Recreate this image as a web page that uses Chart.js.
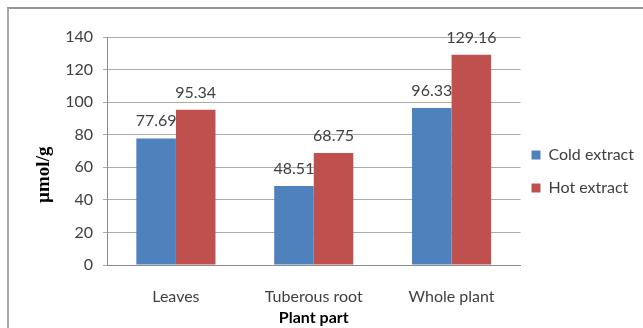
<!DOCTYPE html>
<html>
<head>
<meta charset="utf-8">
<script src="https://cdn.jsdelivr.net/npm/chart.js@4"></script>
<style>
  html, body { margin: 0; padding: 0; background: #fff; }
  #wrap { position: relative; width: 643px; height: 328px; overflow: hidden; }
  #frame { position: absolute; left: 7px; top: 7px; width: 700px; height: 400px;
           border-left: 2px solid #a8a8a8; border-top: 2px solid #969696; pointer-events: none; }
  canvas { position: absolute; left: 0; top: 0; }
</style>
</head>
<body>
<div id="wrap">
  <canvas id="chart" width="643" height="328"></canvas>
  <div id="frame"></div>
</div>
<script>
const categories = ['Leaves', 'Tuberous root', 'Whole plant'];
const coldExtract = [77.69, 48.51, 96.33];
const hotExtract = [95.34, 68.75, 129.16];
const seriesNames = ['Cold extract', 'Hot extract'];

// value labels on top of each bar
const valueLabels = {
    id: 'valueLabels',
    afterDatasetsDraw(chart) {
        const ctx = chart.ctx;
        ctx.save();
        ctx.font = '16px Lato';
        ctx.fillStyle = '#404040';
        ctx.textAlign = 'center';
        ctx.textBaseline = 'alphabetic';
        chart.data.datasets.forEach((ds, i) => {
            chart.getDatasetMeta(i).data.forEach((bar, j) => {
                ctx.fillText(ds.data[j].toFixed(2), bar.x, bar.y - 12);
            });
        });
        ctx.restore();
    }
};

// pull the legend a bit closer to the plot
const legendNudge = {
    id: 'legendNudge',
    afterLayout(chart) {
        chart.legend.left -= 6;
        chart.legend.right -= 6;
    }
};

new Chart(document.getElementById('chart'), {
    type: 'bar',
    data: {
        labels: categories,
        datasets: [
            { label: seriesNames[0], data: coldExtract, backgroundColor: '#4F81BD' },
            { label: seriesNames[1], data: hotExtract, backgroundColor: '#C0504D' }
        ]
    },
    options: {
        responsive: false,
        animation: false,
        devicePixelRatio: 1,
        datasets: { bar: { categoryPercentage: 0.574, barPercentage: 1.0 } },
        layout: { padding: { left: 0, top: 37, right: -7, bottom: 22 } },
        plugins: {
            legend: {
                position: 'right',
                labels: {
                    boxWidth: 9, boxHeight: 9, padding: 17,
                    font: { family: 'Lato', size: 16 }, color: '#404040'
                }
            },
            tooltip: { enabled: false }
        },
        scales: {
            x: {
                grid: { display: false },
                border: { display: true, color: '#8c8c8c' },
                ticks: { font: { family: 'Lato', size: 16 }, color: '#404040', padding: 14 },
                title: {
                    display: true, text: 'Plant part', color: '#000',
                    font: { family: 'Lato', size: 16, weight: 'bold' },
                    padding: { top: 0, bottom: -21 }
                },
                afterFit(scale) { scale.height = 41; }
            },
            y: {
                min: 0, max: 140,
                ticks: { stepSize: 20, font: { family: 'Lato', size: 16 }, color: '#404040', padding: 10 },
                grid: { color: '#ababab', tickLength: 4 },
                border: { display: true, color: '#8c8c8c' },
                title: {
                    display: true, text: 'µmol/g\u00a0\u00a0\u00a0\u00a0\u00a0\u00a0\u00a0\u00a0\u00a0\u00a0', color: '#000',
                    font: { family: 'Liberation Serif', size: 19, weight: 'bold' },
                    padding: { top: 33, bottom: 0 }
                },
                afterFit(scale) { scale.width = 107; }
            }
        }
    },
    plugins: [valueLabels, legendNudge]
});
</script>
</body>
</html>
